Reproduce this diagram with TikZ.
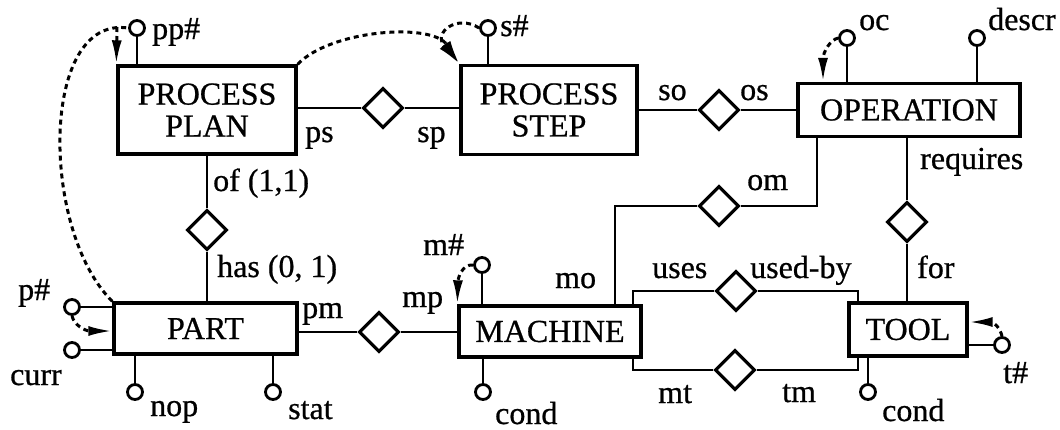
\documentclass[tikz,border=0pt]{standalone}
\usepackage{fontspec}
\setmainfont{Liberation Serif}[FakeBold=0.7]
\usetikzlibrary{arrows.meta,shapes.geometric}
\begin{document}
\begin{tikzpicture}[x=1pt,y=-1pt,
  every node/.style={font=\fontsize{32}{32}\selectfont},
  entity/.style={draw,line width=3.4pt,rectangle,inner sep=0pt,align=center},
  rel/.style={draw,diamond,line width=3.2pt,minimum width=40pt,minimum height=40pt,inner sep=0pt},
  attr/.style={draw,circle,line width=2.8pt,minimum size=15pt,inner sep=0pt},
  lbl/.style={anchor=base west,inner sep=0pt},
  conn/.style={line width=2.8pt},
  dotline/.style={line width=3pt,dash pattern=on 5pt off 4pt},
  darr/.style={dotline,-{Latex[length=24pt,width=10pt]}}
]
\useasboundingbox (0,0) rectangle (1060,429);
% entities
\node[entity,minimum width=178pt,minimum height=88pt] (PP) at (207,110) {PROCESS\\PLAN};
\node[entity,minimum width=176pt,minimum height=89pt] (PS) at (549,110) {PROCESS\\STEP};
\node[entity,minimum width=222pt,minimum height=53pt] (OP) at (909,110) {OPERATION};
\node[entity,minimum width=183pt,minimum height=51pt] (PART) at (205.5,328.5) {PART};
\node[entity,minimum width=182pt,minimum height=51pt] (MACH) at (550,331.5) {MACHINE};
\node[entity,minimum width=118pt,minimum height=53pt] (TOOL) at (908,329.5) {TOOL};
% relationships
\node[rel] (d1) at (383,108) {};
\node[rel] (d2) at (719,110) {};
\node[rel] (d3) at (207,230) {};
\node[rel] (d4) at (379,332) {};
\node[rel] (d5) at (719,206) {};
\node[rel] (d6) at (907,222) {};
\node[rel] (d7) at (736,291) {};
\node[rel] (d8) at (735,370) {};
% attributes
\node[attr] (app) at (137,28) {};
\node[attr] (as) at (488,28) {};
\node[attr] (aoc) at (847,38) {};
\node[attr] (ade) at (977,38) {};
\node[attr] (am) at (482,265) {};
\node[attr] (amc) at (483,392) {};
\node[attr] (ap) at (72,307) {};
\node[attr] (acu) at (72,350) {};
\node[attr] (anop) at (135,392) {};
\node[attr] (ast) at (273,392) {};
\node[attr] (atc) at (868,392) {};
\node[attr] (at) at (1002,345) {};
% stems
\draw[conn] (app) -- (app |- PP.north);
\draw[conn] (as) -- (as |- PS.north);
\draw[conn] (aoc) -- (aoc |- OP.north);
\draw[conn] (ade) -- (ade |- OP.north);
\draw[conn] (am) -- (am |- MACH.north);
\draw[conn] (amc) -- (amc |- MACH.south);
\draw[conn] (ap) -- (ap -| PART.west);
\draw[conn] (acu) -- (acu -| PART.west);
\draw[conn] (anop) -- (anop |- PART.south);
\draw[conn] (ast) -- (ast |- PART.south);
\draw[conn] (atc) -- (atc |- TOOL.south);
\draw[conn] (at) -- (at -| TOOL.east);
% connectors
\coordinate (xom) at (817,0);
\coordinate (xmo) at (615,0);
\coordinate (xmu) at (633,0);
\coordinate (xtu) at (858,0);
\draw[conn] (d1.west) -- (d1.west -| PP.east);
\draw[conn] (d1.east) -- (d1.east -| PS.west);
\draw[conn] (d2.west) -- (d2.west -| PS.east);
\draw[conn] (d2.east) -- (d2.east -| OP.west);
\draw[conn] (d3.north) -- (d3.north |- PP.south);
\draw[conn] (d3.south) -- (d3.south |- PART.north);
\draw[conn] (d4.west) -- (d4.west -| PART.east);
\draw[conn] (d4.east) -- (d4.east -| MACH.west);
\draw[conn] (d5.east) -| (xom |- OP.south);
\draw[conn] (d5.west) -| (xmo |- MACH.north);
\draw[conn] (d6.north) -- (d6.north |- OP.south);
\draw[conn] (d6.south) -- (d6.south |- TOOL.north);
\draw[conn] (d7.west) -| (xmu |- MACH.north);
\draw[conn] (d7.east) -| (xtu |- TOOL.north);
\draw[conn] (d8.west) -| (xmu |- MACH.south);
\draw[conn] (d8.east) -| (xtu |- TOOL.south);
% dashed references
\coordinate (ppturn) at (117,27);
\coordinate (xoc) at (823,0);
\coordinate (yp) at (0,331);
\coordinate (yt) at (0,322);
\draw[dotline] (PART.north west) .. controls (40,230) and (40,15) .. (app.west);
\draw[darr] (ppturn) -- (PP.north west);
\draw[darr] (PP.north east) .. controls (330,30) and (432,22) .. (PS.north west);
\draw[darr] (as.west) .. controls (458,14) and (432,32) .. (PS.north west);
\draw[darr] (aoc.west) .. controls (830,40) and (823,52) .. (xoc |- OP.north);
\draw[darr] (am.west) .. controls (462,264) and (458,278) .. (MACH.north west);
\draw[darr] (ap.south) .. controls (74,325) and (85,331) .. (PART.west |- yp);
\draw[darr] (at.north) .. controls (1000,328) and (994,322) .. (TOOL.east |- yt);
% labels
\node[lbl] (l1) at (152,39) {pp\#};
\node[lbl] (l2) at (500,36) {s\#};
\node[lbl] (l3) at (859,30) {oc};
\node[lbl] (l4) at (988,30) {descr};
\node[lbl] (l5) at (305,142) {ps};
\node[lbl] (l6) at (417,142) {sp};
\node[lbl] (l7) at (658,100) {so};
\node[lbl] (l8) at (740,100) {os};
\node[lbl] (l9) at (213,191) {of (1,1)};
\node[lbl] (l10) at (217,277) {has (0, 1)};
\node[lbl] (l11) at (747,190) {om};
\node[lbl] (l12) at (920,169) {requires};
\node[lbl] (l13) at (917,278) {for};
\node[lbl] (l14) at (652,278) {uses};
\node[lbl] (l15) at (750,278) {used-by};
\node[lbl] (l16) at (423,255) {m\#};
\node[lbl] (l17) at (555,288) {mo};
\node[lbl] (l18) at (402,307) {mp};
\node[lbl] (l19) at (302,318) {pm};
\node[lbl] (l20) at (18,300) {p\#};
\node[lbl] (l21) at (10,385) {curr};
\node[lbl] (l22) at (150,416) {nop};
\node[lbl] (l23) at (288,419) {stat};
\node[lbl] (l24) at (495,424) {cond};
\node[lbl] (l25) at (658,403) {mt};
\node[lbl] (l26) at (782,402) {tm};
\node[lbl] (l27) at (882,421) {cond};
\node[lbl] (l28) at (1003,383) {t\#};
\end{tikzpicture}
\end{document}
